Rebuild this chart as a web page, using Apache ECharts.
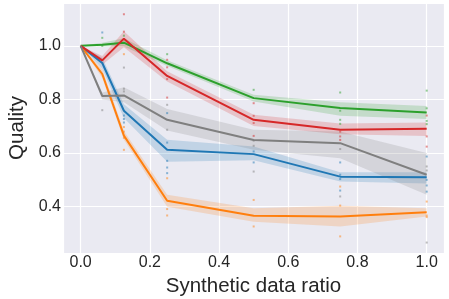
<!DOCTYPE html>
<html><head><meta charset="utf-8">
<script src="https://cdn.jsdelivr.net/npm/echarts@6/dist/echarts.min.js"></script>
<style>html,body{margin:0;padding:0;background:#fff}#c{width:449px;height:299px}</style>
</head><body><div id="c"></div>
<script>
const xs = [0, 0.0625, 0.125, 0.25, 0.5, 0.75, 1.0];

const green = [1.0, 1.004, 1.012, 0.935, 0.805, 0.768, 0.751];
const greenLo = [1.0, 0.998, 0.998, 0.925, 0.792, 0.739, 0.727];
const greenHi = [1.0, 1.012, 1.028, 0.946, 0.818, 0.79, 0.776];

const red = [1.0, 0.946, 1.027, 0.888, 0.724, 0.687, 0.691];
const redLo = [1.0, 0.93, 0.995, 0.867, 0.701, 0.67, 0.664];
const redHi = [1.0, 0.962, 1.055, 0.905, 0.743, 0.71, 0.714];

const gray = [1.0, 0.813, 0.815, 0.724, 0.649, 0.637, 0.519];
const grayLo = [1.0, 0.80, 0.79, 0.684, 0.612, 0.581, 0.444];
const grayHi = [1.0, 0.826, 0.846, 0.764, 0.687, 0.68, 0.6];

const blue = [1.0, 0.936, 0.758, 0.612, 0.596, 0.512, 0.51];
const blueLo = [1.0, 0.915, 0.731, 0.568, 0.573, 0.494, 0.486];
const blueHi = [1.0, 0.956, 0.782, 0.65, 0.624, 0.528, 0.528];

const orange = [1.0, 0.895, 0.665, 0.422, 0.366, 0.363, 0.379];
const orangeLo = [1.0, 0.88, 0.65, 0.40, 0.344, 0.326, 0.363];
const orangeHi = [1.0, 0.912, 0.682, 0.444, 0.394, 0.403, 0.394];

const greenPts = [[0.0625,1.03],[0.0625,1.0],[0.125,1.038],[0.25,0.969],[0.5,0.836],[0.75,0.826],[0.75,0.758],[0.75,0.724],[0.75,0.709],[1,0.833],[1,0.767],[1,0.72],[1,0.708]];
const redPts = [[0.125,1.118],[0.125,1.053],[0.25,0.948],[0.25,0.92],[0.25,0.876],[0.25,0.807],[0.5,0.786],[0.5,0.739],[0.5,0.712],[0.5,0.664],[0.75,0.68],[0.75,0.662],[0.75,0.649],[1,0.74],[1,0.662],[1,0.624]];
const grayPts = [[0.0625,0.76],[0.125,0.919],[0.125,0.84],[0.125,0.83],[0.25,0.78],[0.25,0.687],[0.5,0.646],[0.5,0.627],[0.5,0.531],[0.75,0.615],[0.75,0.438],[1,0.55],[1,0.535],[1,0.266]];
const bluePts = [[0.0625,1.05],[0.125,0.74],[0.125,0.727],[0.125,0.714],[0.25,0.749],[0.25,0.639],[0.25,0.571],[0.25,0.546],[0.25,0.525],[0.5,0.606],[0.5,0.565],[0.75,0.565],[0.75,0.519],[0.75,0.503],[0.75,0.46],[1,0.587],[1,0.5],[1,0.479],[1,0.456]];
const orangePts = [[0.125,0.969],[0.125,0.697],[0.125,0.68],[0.125,0.657],[0.125,0.612],[0.25,0.506],[0.25,0.391],[0.25,0.367],[0.5,0.425],[0.5,0.326],[0.75,0.475],[0.75,0.404],[0.75,0.289],[1,0.419],[1,0.367],[1,0.361]];

const groups = [
  {name:'blue', color:'#1f77b4', mean:blue, lo:blueLo, hi:blueHi, pts:bluePts},
  {name:'orange', color:'#ff7f0e', mean:orange, lo:orangeLo, hi:orangeHi, pts:orangePts},
  {name:'green', color:'#2ca02c', mean:green, lo:greenLo, hi:greenHi, pts:greenPts},
  {name:'red', color:'#d62728', mean:red, lo:redLo, hi:redHi, pts:redPts},
  {name:'gray', color:'#7f7f7f', mean:gray, lo:grayLo, hi:grayHi, pts:grayPts}
];

const series = [];
groups.forEach(g => {
  series.push({
    type:'custom', silent:true, z:1,
    data: xs.map((x,i)=>[x, g.lo[i], g.hi[i]]),
    encode:{x:0, y:[1,2]},
    renderItem:function(params, api){
      if (params.dataIndex !== 0) return null;
      const pts = [];
      for (let i = 0; i < xs.length; i++) pts.push(api.coord([xs[i], g.hi[i]]));
      for (let i = xs.length - 1; i >= 0; i--) pts.push(api.coord([xs[i], g.lo[i]]));
      return {type:'polygon', shape:{points:pts}, style:{fill:g.color, opacity:0.2}};
    }
  });
});
groups.forEach(g => {
  series.push({
    type:'scatter', symbol:'rect', symbolSize:2, silent:true,
    data:g.pts, itemStyle:{color:g.color, opacity:0.5}, z:2
  });
});
groups.forEach(g => {
  series.push({
    type:'line', symbol:'none', silent:true,
    data: xs.map((x,i)=>[x, g.mean[i]]),
    lineStyle:{color:g.color, width:2}, z:3
  });
});

const chart = echarts.init(document.getElementById('c'), null, {renderer:'canvas'});
const FF = 'Liberation Sans, Arial, sans-serif';
const lab = {color:'#262626', fontFamily:FF, fontSize:16};
chart.setOption({
  animation:false,
  grid:{left:63, right:5, top:3, bottom:46, show:true, backgroundColor:'#EAEAF2', borderWidth:0,
        containLabel:false, outerBoundsMode:'none'},
  xAxis:{
    type:'value', min:-0.051, max:1.05, splitNumber:5,
    axisLine:{show:false}, axisTick:{show:false},
    axisLabel:Object.assign({margin:2, showMinLabel:false, showMaxLabel:false,
      formatter:v=>v.toFixed(1)}, lab),
    splitLine:{show:true, lineStyle:{color:'#ffffff', width:1.2}},
    name:'Synthetic data ratio', nameLocation:'middle', nameGap:23,
    nameTextStyle:{color:'#262626', fontFamily:FF, fontSize:20.5}
  },
  yAxis:{
    type:'value', min:0.227, max:1.16, splitNumber:5,
    axisLine:{show:false}, axisTick:{show:false},
    axisLabel:Object.assign({margin:2, showMinLabel:false, showMaxLabel:false,
      formatter:v=>v.toFixed(1)}, lab),
    splitLine:{show:true, lineStyle:{color:'#ffffff', width:1.2}},
    name:'Quality', nameLocation:'middle', nameGap:35,
    nameTextStyle:{color:'#262626', fontFamily:FF, fontSize:20.5}
  },
  series:series
});
</script></body></html>
